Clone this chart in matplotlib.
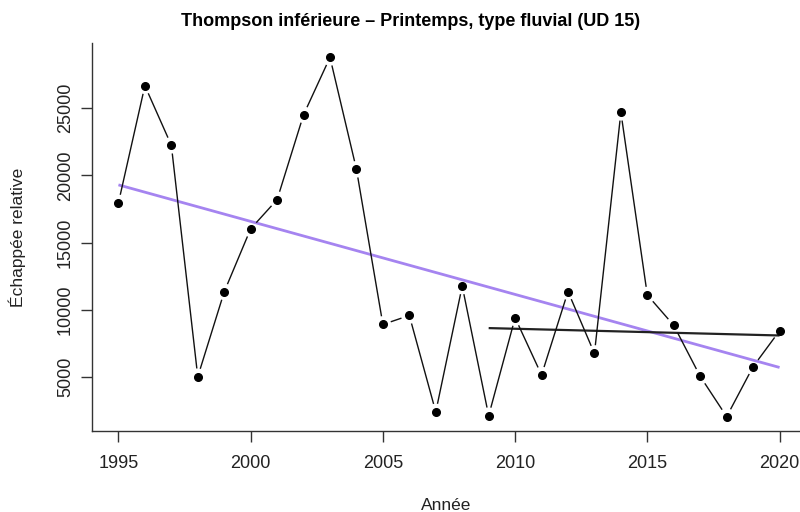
import matplotlib
matplotlib.use("Agg")
import matplotlib.pyplot as plt
import numpy as np

years = list(range(1995, 2021))
values = [17960, 26680, 22250, 5020, 11340, 16030, 18200, 24520, 28790, 20460,
          8910, 9580, 2400, 11770, 2120, 9410, 5150, 11360, 6750, 24700,
          11100, 8840, 5045, 2050, 5770, 8440]
trend_years = [1995, 2020]
trend_values = [19300, 5710]
recent_years = [2009, 2020]
recent_values = [8640, 8090]
x_ticks = [1995, 2000, 2005, 2010, 2015, 2020]
y_ticks = [5000, 10000, 15000, 20000, 25000]
y_ticklabels = ["5000", "10000", "15000", "20000", "25000"]

title = "Thompson inférieure – Printemps, type fluvial (UD 15)"
xlabel = "Année"
ylabel = "Échappée relative"

plt.rcParams['font.family'] = ['Liberation Sans', 'DejaVu Sans']

W, H = 800, 512
fig = plt.figure(figsize=(W / 100, H / 100), dpi=100)
left, right, top, bottom = 92, 806, 43, 431
ax = fig.add_axes([left / W, (H - bottom) / H, (right - left) / W, (bottom - top) / H])

xr = max(years) - min(years)
yr = max(values) - min(values)
ax.set_xlim(min(years) - 0.04 * xr, max(years) + 0.04 * xr)
ax.set_ylim(min(values) - 0.04 * yr, max(values) + 0.04 * yr)

for s in ['top', 'right']:
    ax.spines[s].set_visible(False)
for s in ['left', 'bottom']:
    ax.spines[s].set_color('#333333')
    ax.spines[s].set_linewidth(1.0)

# trend lines
ax.plot(trend_years, trend_values, color='#a584f0', lw=2.0, zorder=2, solid_capstyle='butt')
ax.plot(recent_years, recent_values, color='#222222', lw=1.6, zorder=2, solid_capstyle='butt')

# type="b": segments with gaps around points
fig.canvas.draw()
trans = ax.transData
inv = trans.inverted()
pts = trans.transform(np.column_stack([years, values]))
gap = 9.0
for i in range(len(pts) - 1):
    p0, p1 = pts[i], pts[i + 1]
    d = p1 - p0
    L = np.hypot(*d)
    if L <= 2 * gap:
        continue
    u = d / L
    a = inv.transform(p0 + u * gap)
    b = inv.transform(p1 - u * gap)
    ax.plot([a[0], b[0]], [a[1], b[1]], color='#111111', lw=1.0, zorder=3)

ax.plot(years, values, 'o', color='black', markersize=5.5, zorder=4, linestyle='none')

ax.set_xticks(x_ticks)
ax.set_xticklabels([str(t) for t in x_ticks])
ax.set_yticks(y_ticks)
ax.set_yticklabels(y_ticklabels, rotation=90, va='center')
ax.tick_params(axis='both', direction='out', length=8, width=1.0, color='#333333',
               labelsize=13, labelcolor='#222222')
ax.tick_params(axis='x', pad=9)
ax.tick_params(axis='y', pad=5)

fig.text(411 / W, 1 - 21 / H, title, ha='center', va='center',
         fontsize=13, fontweight='bold', color='black')
fig.text(446 / W, 1 - 505 / H, xlabel, ha='center', va='center', fontsize=12.5, color='#222222')
fig.text(17 / W, 1 - 237 / H, ylabel, ha='center', va='center', rotation=90,
         fontsize=12.5, color='#222222')

fig.savefig('out.png', dpi=100)
